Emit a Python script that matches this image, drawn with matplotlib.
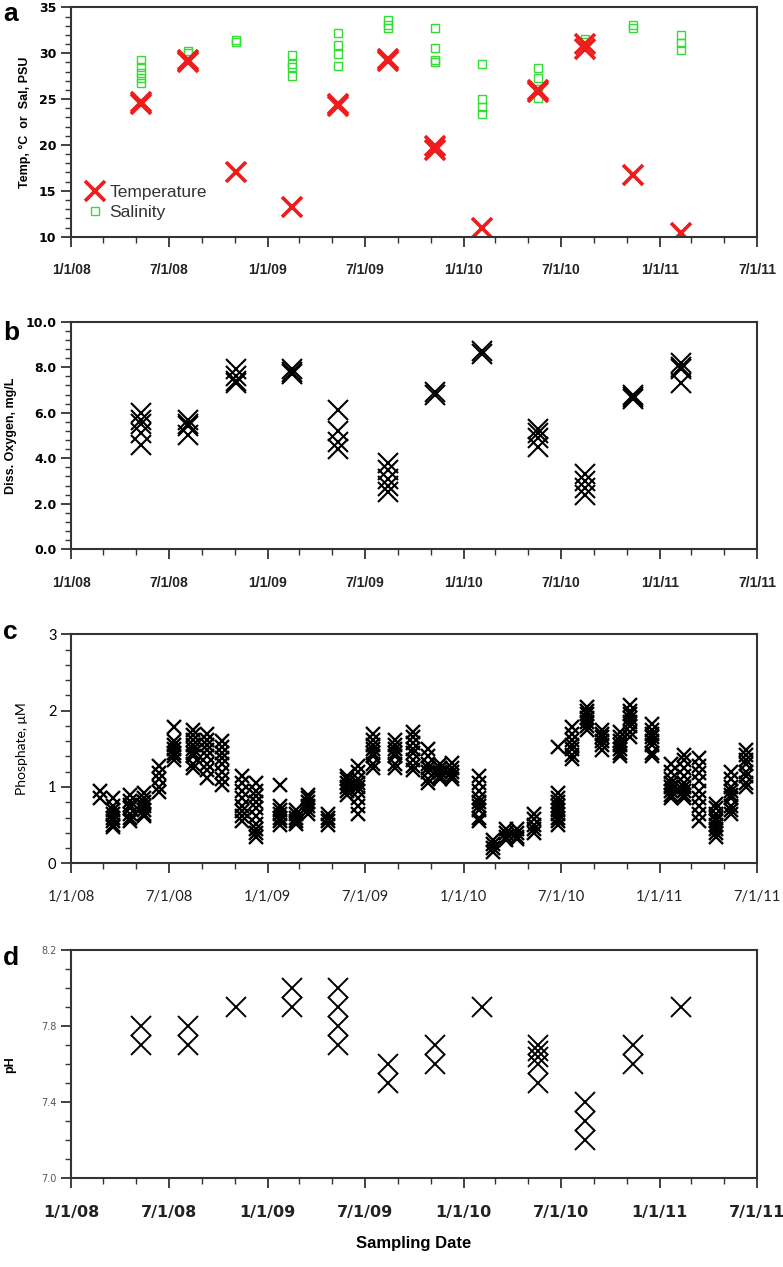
import datetime as dt
import matplotlib
matplotlib.use("Agg")
import matplotlib.pyplot as plt
import matplotlib.dates as mdates
from matplotlib.ticker import MultipleLocator, FuncFormatter, FixedLocator

# quarterly sampling dates (panels a, b, d)
quarter_dates = ["2008-05-11", "2008-08-05", "2008-11-04", "2009-02-16",
                 "2009-05-12", "2009-08-13", "2009-11-08", "2010-02-05",
                 "2010-05-19", "2010-08-14", "2010-11-12", "2011-02-10"]

temperature = [[24.5, 24.7], [29.0, 29.3], [17.0], [13.2], [24.2, 24.5], [29.2, 29.4],
               [19.4, 19.9], [10.9], [25.8, 26.0], [30.5, 31.0], [16.7], [10.4]]
salinity = [[26.8, 27.3, 27.8, 28.5, 29.3], [30.0, 30.2], [31.2, 31.4],
            [27.5, 28.5, 28.8, 29.8], [28.6, 29.9, 30.9, 32.2], [32.7, 33.1, 33.6],
            [29.0, 29.3, 30.6, 32.7], [23.4, 24.1, 25.0, 28.8],
            [25.1, 26.1, 27.3, 28.4], [31.2, 31.6], [32.8, 33.1], [30.4, 31.1, 32.0]]
oxygen = [[6.0, 5.7, 5.5, 5.1, 4.6], [5.7, 5.5, 5.4, 5.0], [7.9, 7.6, 7.4, 7.3],
          [7.9, 7.8, 7.7], [6.1, 5.2, 4.7, 4.4], [3.8, 3.5, 3.1, 2.8, 2.5],
          [6.9, 6.8], [8.6, 8.7], [5.3, 5.1, 4.9, 4.5], [3.3, 3.0, 2.7, 2.4],
          [6.8, 6.7, 6.6], [8.2, 8.0, 7.9, 7.3]]
ph = [[7.8, 7.7], [7.8, 7.7], [7.9], [8.0, 7.9], [8.0, 7.9, 7.8, 7.7], [7.6, 7.5],
      [7.7, 7.6], [7.9], [7.7, 7.67, 7.64, 7.6, 7.5], [7.4, 7.3, 7.2], [7.7, 7.6], [7.9]]

# phosphate, near-monthly sampling
phos_dates = ["2008-02-24", "2008-03-20", "2008-04-19", "2008-05-16", "2008-06-12",
              "2008-07-11", "2008-08-15", "2008-09-10", "2008-10-08", "2008-11-14",
              "2008-12-11", "2009-01-25", "2009-02-22", "2009-03-17", "2009-04-24",
              "2009-05-28", "2009-06-19", "2009-07-16", "2009-08-26", "2009-09-29",
              "2009-10-27", "2009-11-18", "2009-12-10", "2010-01-29", "2010-02-25",
              "2010-03-20", "2010-04-11", "2010-05-12", "2010-06-25", "2010-07-22",
              "2010-08-19", "2010-09-16", "2010-10-20", "2010-11-06", "2010-12-18",
              "2011-01-22", "2011-02-15", "2011-03-15", "2011-04-15", "2011-05-13",
              "2011-06-10"]
phosphate = [
    [0.95, 0.85],
    [0.85, 0.75, 0.7, 0.65, 0.6, 0.55, 0.5, 0.48],
    [0.9, 0.82, 0.77, 0.72, 0.65, 0.6, 0.55],
    [0.92, 0.85, 0.8, 0.75, 0.7, 0.65, 0.62],
    [1.28, 1.18, 1.1, 1.0, 0.93],
    [1.78, 1.6, 1.55, 1.5, 1.45, 1.4, 1.35],
    [1.75, 1.68, 1.62, 1.55, 1.5, 1.45, 1.4, 1.3, 1.25],
    [1.7, 1.62, 1.55, 1.48, 1.4, 1.3, 1.22, 1.12],
    [1.6, 1.52, 1.45, 1.38, 1.3, 1.2, 1.1, 1.02],
    [1.15, 1.05, 0.95, 0.85, 0.75, 0.68, 0.62, 0.55],
    [1.05, 0.95, 0.88, 0.8, 0.72, 0.62, 0.52, 0.45, 0.4, 0.35],
    [1.03, 0.75, 0.7, 0.65, 0.6, 0.55, 0.5],
    [0.7, 0.65, 0.6, 0.55, 0.52],
    [0.9, 0.85, 0.8, 0.75, 0.7, 0.65],
    [0.65, 0.6, 0.55, 0.5],
    [1.15, 1.1, 1.05, 1.0, 0.95, 0.9],
    [1.28, 1.2, 1.1, 1.05, 1.0, 0.95, 0.85, 0.75, 0.65],
    [1.7, 1.62, 1.55, 1.5, 1.45, 1.4, 1.3, 1.25],
    [1.62, 1.55, 1.5, 1.45, 1.4, 1.3, 1.25],
    [1.72, 1.65, 1.58, 1.5, 1.45, 1.35, 1.28, 1.22],
    [1.5, 1.4, 1.3, 1.25, 1.2, 1.1, 1.05],
    [1.3, 1.25, 1.2, 1.15, 1.1],
    [1.32, 1.25, 1.2, 1.15, 1.1],
    [1.15, 1.05, 0.95, 0.85, 0.8, 0.75, 0.7, 0.6, 0.55],
    [0.3, 0.25, 0.2, 0.15],
    [0.45, 0.4, 0.35, 0.3],
    [0.45, 0.4, 0.35, 0.32],
    [0.65, 0.58, 0.5, 0.45, 0.4],
    [1.52, 0.92, 0.85, 0.8, 0.75, 0.7, 0.65, 0.6, 0.55, 0.5],
    [1.78, 1.7, 1.62, 1.55, 1.5, 1.42, 1.36],
    [2.05, 2.0, 1.95, 1.9, 1.85, 1.8, 1.75],
    [1.75, 1.7, 1.65, 1.6, 1.55, 1.48],
    [1.72, 1.65, 1.6, 1.55, 1.5, 1.45, 1.4],
    [2.08, 2.0, 1.95, 1.9, 1.85, 1.8, 1.72, 1.65],
    [1.82, 1.75, 1.7, 1.65, 1.6, 1.55, 1.45, 1.4],
    [1.3, 1.2, 1.1, 1.05, 1.0, 0.95, 0.9, 0.85],
    [1.42, 1.35, 1.25, 1.15, 1.05, 1.0, 0.95, 0.9, 0.85],
    [1.38, 1.28, 1.18, 1.08, 0.95, 0.85, 0.75, 0.65, 0.55],
    [0.78, 0.72, 0.65, 0.6, 0.55, 0.5, 0.45, 0.4, 0.35],
    [1.2, 1.1, 1.0, 0.95, 0.9, 0.85, 0.75, 0.7, 0.65],
    [1.48, 1.42, 1.35, 1.3, 1.2, 1.15, 1.05, 1.0],
]

ph_ticks = [7.0, 7.4, 7.8, 8.2]
xlim = (dt.date(2008, 1, 1), dt.date(2011, 7, 1))


def flatten(dates, groups):
    xs, ys = [], []
    for d, vals in zip(dates, groups):
        day = dt.date.fromisoformat(d)
        for v in vals:
            xs.append(day)
            ys.append(v)
    return xs, ys


def date_label(x, pos):
    d = mdates.num2date(x)
    return "%d/%d/%02d" % (d.month, d.day, d.year % 100)


def style_axis(ax, label_font, label_size, label_weight, pad):
    ax.set_xlim(xlim)
    ax.xaxis.set_major_locator(mdates.MonthLocator(bymonth=[1, 7]))
    ax.xaxis.set_minor_locator(mdates.MonthLocator(bymonth=[3, 5, 9, 11]))
    ax.xaxis.set_major_formatter(FuncFormatter(date_label))
    ax.tick_params(axis="both", which="major", direction="out", length=7, width=1.3, color="#333333")
    ax.tick_params(axis="both", which="minor", direction="out", length=4, width=1.0, color="#333333")
    ax.tick_params(axis="x", which="major", pad=pad)
    for s in ax.spines.values():
        s.set_linewidth(1.5)
        s.set_color("#333333")
    for lab in ax.get_xticklabels():
        lab.set_fontfamily(label_font)
        lab.set_fontsize(label_size)
        lab.set_fontweight(label_weight)
        lab.set_color("#222222")


fig = plt.figure(figsize=(7.83, 12.67), dpi=100)
left, width = 0.0907, 0.876

# panel a
ax = fig.add_axes([left, 0.8132, width, 0.181])
tx, ty = flatten(quarter_dates, temperature)
sx, sy = flatten(quarter_dates, salinity)
ax.plot(sx, sy, ls="none", marker="s", ms=6, mfc="none", mec="#33dd33", mew=1.0, label="Salinity")
ax.plot(tx, ty, ls="none", marker="x", ms=14, mec="#ee1c1c", mew=2.6, label="Temperature")
ax.set_ylim(10, 35)
ax.yaxis.set_major_locator(MultipleLocator(5))
ax.yaxis.set_minor_locator(MultipleLocator(1))
style_axis(ax, "Liberation Sans", 10, "bold", 12)
for lab in ax.get_yticklabels():
    lab.set_fontweight("bold")
    lab.set_fontsize(9)
ax.set_ylabel("Temp, °C  or  Sal, PSU", fontsize=9, fontweight="bold", family="Liberation Sans", labelpad=6)
h, l = ax.get_legend_handles_labels()
leg = ax.legend([h[1], h[0]], [l[1], l[0]], loc="lower left", frameon=False,
                handletextpad=0.1, borderaxespad=0.3, labelspacing=0.25, handlelength=1.4,
                bbox_to_anchor=(0.0, 0.02),
                prop={"family": "Liberation Sans", "size": 12.5})
for t in leg.get_texts():
    t.set_color("#333333")

# panel b
ax = fig.add_axes([left, 0.5665, width, 0.1796])
ox, oy = flatten(quarter_dates, oxygen)
ax.plot(ox, oy, ls="none", marker="x", ms=14, mec="black", mew=1.5)
ax.set_ylim(0, 10)
ax.yaxis.set_major_locator(MultipleLocator(2))
ax.yaxis.set_minor_locator(MultipleLocator(0.4))
ax.yaxis.set_major_formatter(FuncFormatter(lambda v, p: "%.1f" % v))
style_axis(ax, "Liberation Sans", 10, "bold", 12)
for lab in ax.get_yticklabels():
    lab.set_fontweight("bold")
    lab.set_fontsize(9)
ax.set_ylabel("Diss. Oxygen, mg/L", fontsize=9, fontweight="bold", family="Liberation Sans", labelpad=6)

# panel c
ax = fig.add_axes([left, 0.3186, width, 0.1808])
px, py = flatten(phos_dates, phosphate)
ax.plot(px, py, ls="none", marker="x", ms=10, mec="black", mew=1.7)
ax.set_ylim(0, 3)
ax.yaxis.set_major_locator(MultipleLocator(1))
ax.yaxis.set_minor_locator(MultipleLocator(0.2))
style_axis(ax, "Lato", 10.5, "normal", 12)
for lab in ax.get_yticklabels():
    lab.set_fontfamily("Lato")
    lab.set_fontsize(10.5)
ax.set_ylabel("Phosphate, μM", fontsize=10, family="Lato", labelpad=14)

# panel d
ax = fig.add_axes([left, 0.07, width, 0.1802])
hx, hy = flatten(quarter_dates, ph)
ax.plot(hx, hy, ls="none", marker="x", ms=14, mec="black", mew=1.4)
ax.set_ylim(7.0, 8.2)
ax.yaxis.set_major_locator(FixedLocator(ph_ticks))
ax.yaxis.set_minor_locator(MultipleLocator(0.1))
ax.yaxis.set_major_formatter(FuncFormatter(lambda v, p: "%.1f" % v))
style_axis(ax, "DejaVu Sans", 11.5, "bold", 12)
for lab in ax.get_yticklabels():
    lab.set_fontsize(7)
    lab.set_color("#555555")
ax.set_ylabel("pH", fontsize=9, fontweight="bold", family="Liberation Sans", labelpad=18)
ax.set_xlabel("Sampling Date", fontsize=12, fontweight="bold", family="Liberation Sans", labelpad=12)

# panel letters
for letter, ypix in [("a", 14), ("b", 333), ("c", 632), ("d", 958)]:
    fig.text(0.004, 1 - ypix / 1267, letter, fontsize=19, fontweight="bold",
             family="Liberation Sans", va="center", ha="left")

fig.savefig("out.png", dpi=100)
